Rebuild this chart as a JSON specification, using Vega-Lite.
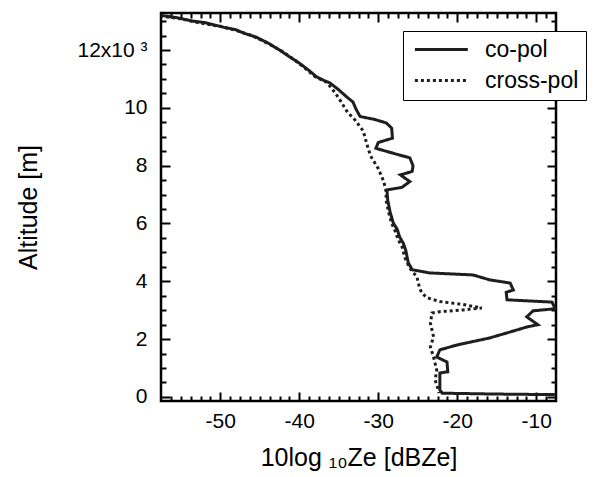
{
  "$schema": "https://vega.github.io/schema/vega-lite/v6.json",
  "width": 395,
  "height": 388,
  "autosize": "none",
  "padding": {"left": 161, "top": 13, "right": 44, "bottom": 76},
  "background": "white",
  "config": {
    "view": {"stroke": "black", "strokeWidth": 2.5, "fill": null},
    "font": "Liberation Sans",
    "axis": {"domain": false, "grid": false, "ticks": true, "zindex": 1, "tickColor": "#000000", "tickOpacity": 1, "tickWidth": 2, "labelColor": "black", "titleColor": "black", "labelFont": "Liberation Sans", "titleFont": "Liberation Sans", "titleFontWeight": "normal", "labelFlush": false, "labelOverlap": false}
  },
  "data": {"values": [
    {"s": "co-pol", "x": -57.6, "y": 13200},
    {"s": "co-pol", "x": -55.5, "y": 13120},
    {"s": "co-pol", "x": -53.5, "y": 13000},
    {"s": "co-pol", "x": -52.0, "y": 12950},
    {"s": "co-pol", "x": -50.5, "y": 12850},
    {"s": "co-pol", "x": -49.5, "y": 12780},
    {"s": "co-pol", "x": -48.0, "y": 12700},
    {"s": "co-pol", "x": -47.0, "y": 12580},
    {"s": "co-pol", "x": -45.5, "y": 12450},
    {"s": "co-pol", "x": -44.0, "y": 12250},
    {"s": "co-pol", "x": -42.5, "y": 12000},
    {"s": "co-pol", "x": -41.2, "y": 11760},
    {"s": "co-pol", "x": -40.0, "y": 11550},
    {"s": "co-pol", "x": -38.8, "y": 11300},
    {"s": "co-pol", "x": -37.8, "y": 11070},
    {"s": "co-pol", "x": -36.9, "y": 10950},
    {"s": "co-pol", "x": -36.1, "y": 10860},
    {"s": "co-pol", "x": -35.0, "y": 10620},
    {"s": "co-pol", "x": -34.0, "y": 10380},
    {"s": "co-pol", "x": -33.2, "y": 10200},
    {"s": "co-pol", "x": -32.8, "y": 9950},
    {"s": "co-pol", "x": -32.3, "y": 9700},
    {"s": "co-pol", "x": -30.5, "y": 9600},
    {"s": "co-pol", "x": -29.0, "y": 9480},
    {"s": "co-pol", "x": -28.3, "y": 9300},
    {"s": "co-pol", "x": -28.2, "y": 8950},
    {"s": "co-pol", "x": -30.0, "y": 8800},
    {"s": "co-pol", "x": -30.3, "y": 8600},
    {"s": "co-pol", "x": -28.0, "y": 8420},
    {"s": "co-pol", "x": -26.0, "y": 8270},
    {"s": "co-pol", "x": -25.6, "y": 8000},
    {"s": "co-pol", "x": -25.7, "y": 7800},
    {"s": "co-pol", "x": -27.2, "y": 7680},
    {"s": "co-pol", "x": -26.0, "y": 7450},
    {"s": "co-pol", "x": -27.0, "y": 7250},
    {"s": "co-pol", "x": -28.9, "y": 7160},
    {"s": "co-pol", "x": -28.8, "y": 6800},
    {"s": "co-pol", "x": -28.5, "y": 6400},
    {"s": "co-pol", "x": -28.1, "y": 6020},
    {"s": "co-pol", "x": -27.6, "y": 5800},
    {"s": "co-pol", "x": -27.3, "y": 5540},
    {"s": "co-pol", "x": -26.8, "y": 5300},
    {"s": "co-pol", "x": -26.5, "y": 5050},
    {"s": "co-pol", "x": -26.2, "y": 4640},
    {"s": "co-pol", "x": -25.7, "y": 4400},
    {"s": "co-pol", "x": -23.5, "y": 4290},
    {"s": "co-pol", "x": -18.0, "y": 4220},
    {"s": "co-pol", "x": -15.9, "y": 4050},
    {"s": "co-pol", "x": -13.3, "y": 3940},
    {"s": "co-pol", "x": -12.9, "y": 3700},
    {"s": "co-pol", "x": -13.8, "y": 3620},
    {"s": "co-pol", "x": -13.7, "y": 3360},
    {"s": "co-pol", "x": -8.0, "y": 3280},
    {"s": "co-pol", "x": -7.6, "y": 3050},
    {"s": "co-pol", "x": -10.4, "y": 2980},
    {"s": "co-pol", "x": -11.2, "y": 2770},
    {"s": "co-pol", "x": -9.8, "y": 2500},
    {"s": "co-pol", "x": -11.2, "y": 2420},
    {"s": "co-pol", "x": -12.4, "y": 2320},
    {"s": "co-pol", "x": -15.9, "y": 2040},
    {"s": "co-pol", "x": -20.0, "y": 1800},
    {"s": "co-pol", "x": -22.2, "y": 1630},
    {"s": "co-pol", "x": -22.6, "y": 1380},
    {"s": "co-pol", "x": -21.3, "y": 1210},
    {"s": "co-pol", "x": -21.2, "y": 870},
    {"s": "co-pol", "x": -22.2, "y": 830},
    {"s": "co-pol", "x": -22.2, "y": 240},
    {"s": "co-pol", "x": -21.9, "y": 130},
    {"s": "co-pol", "x": -15.0, "y": 100},
    {"s": "co-pol", "x": -7.5, "y": 80},
    {"s": "cross-pol", "x": -57.6, "y": 13180},
    {"s": "cross-pol", "x": -55.0, "y": 13080},
    {"s": "cross-pol", "x": -52.5, "y": 12930},
    {"s": "cross-pol", "x": -50.0, "y": 12820},
    {"s": "cross-pol", "x": -48.0, "y": 12680},
    {"s": "cross-pol", "x": -46.0, "y": 12500},
    {"s": "cross-pol", "x": -44.0, "y": 12230},
    {"s": "cross-pol", "x": -42.0, "y": 11930},
    {"s": "cross-pol", "x": -40.0, "y": 11530},
    {"s": "cross-pol", "x": -38.0, "y": 11080},
    {"s": "cross-pol", "x": -36.5, "y": 10880},
    {"s": "cross-pol", "x": -35.4, "y": 10500},
    {"s": "cross-pol", "x": -34.8, "y": 10250},
    {"s": "cross-pol", "x": -33.9, "y": 9850},
    {"s": "cross-pol", "x": -33.0, "y": 9600},
    {"s": "cross-pol", "x": -31.9, "y": 9200},
    {"s": "cross-pol", "x": -31.5, "y": 8800},
    {"s": "cross-pol", "x": -31.0, "y": 8350},
    {"s": "cross-pol", "x": -30.0, "y": 7900},
    {"s": "cross-pol", "x": -29.3, "y": 7450},
    {"s": "cross-pol", "x": -29.0, "y": 7100},
    {"s": "cross-pol", "x": -29.0, "y": 6800},
    {"s": "cross-pol", "x": -28.7, "y": 6400},
    {"s": "cross-pol", "x": -28.3, "y": 6000},
    {"s": "cross-pol", "x": -27.8, "y": 5700},
    {"s": "cross-pol", "x": -27.5, "y": 5450},
    {"s": "cross-pol", "x": -27.0, "y": 5200},
    {"s": "cross-pol", "x": -26.6, "y": 4800},
    {"s": "cross-pol", "x": -26.0, "y": 4450},
    {"s": "cross-pol", "x": -25.1, "y": 4150},
    {"s": "cross-pol", "x": -24.8, "y": 3800},
    {"s": "cross-pol", "x": -24.5, "y": 3600},
    {"s": "cross-pol", "x": -23.8, "y": 3430},
    {"s": "cross-pol", "x": -22.2, "y": 3300},
    {"s": "cross-pol", "x": -19.3, "y": 3200},
    {"s": "cross-pol", "x": -16.9, "y": 3080},
    {"s": "cross-pol", "x": -19.3, "y": 3010},
    {"s": "cross-pol", "x": -22.2, "y": 2950},
    {"s": "cross-pol", "x": -23.2, "y": 2900},
    {"s": "cross-pol", "x": -23.4, "y": 2560},
    {"s": "cross-pol", "x": -23.0, "y": 2080},
    {"s": "cross-pol", "x": -23.4, "y": 1730},
    {"s": "cross-pol", "x": -23.0, "y": 1380},
    {"s": "cross-pol", "x": -22.6, "y": 930},
    {"s": "cross-pol", "x": -22.8, "y": 590},
    {"s": "cross-pol", "x": -22.4, "y": 240},
    {"s": "cross-pol", "x": -22.3, "y": 130}
  ]},
  "layer": [
    {
      "mark": {"type": "line", "strokeWidth": 3, "color": "#1e1e1e", "clip": true},
      "encoding": {
        "x": {"field": "x", "type": "quantitative", "scale": {"domain": [-57.5, -7.5], "nice": false, "zero": false},
          "axis": {"orient": "bottom", "values": [-50, -40, -30, -20, -10],
            "labelExpr": "'' + datum.value",
            "offset": -9, "tickSize": 9, "labelFontSize": 21, "labelPadding": 9,
            "title": "10log ₁₀Ze [dBZe]", "titleFontSize": 25, "titleY": 65, "titleBaseline": "middle"}},
        "y": {"field": "y", "type": "quantitative", "scale": {"domain": [-140, 13280], "nice": false, "zero": false},
          "axis": {"orient": "left", "values": [0, 2000, 4000, 6000, 8000, 10000, 12000],
            "labelExpr": "datum.value === 12000 ? '12x10   ³' : '' + datum.value / 1000",
            "offset": -9, "tickSize": 9, "labelFontSize": 21, "labelPadding": 14,
            "title": "Altitude [m]", "titleFontSize": 25, "titleX": -142, "titleY": 194, "titleBaseline": "middle", "titleAngle": -90}},
        "strokeDash": {"field": "s", "type": "nominal", "scale": {"domain": ["co-pol", "cross-pol"], "range": [[1, 0], [3, 3]]},
          "legend": {"orient": "none", "legendX": 242, "legendY": 18, "zindex": 5, "title": null, "padding": 7, "fillColor": "white", "strokeColor": "black",
            "labelFontSize": 23, "labelFont": "Liberation Sans", "labelColor": "black", "symbolType": "M-1,0L7,0", "symbolSize": 175, "symbolStrokeWidth": 3, "symbolStrokeColor": "#1e1e1e",
            "rowPadding": 7, "labelOffset": 52}},
        "order": {"field": "y", "sort": "descending"}
      }
    },
    {
      "mark": {"type": "line", "opacity": 0, "clip": true},
      "encoding": {
        "x": {"field": "x", "type": "quantitative",
          "axis": {"orient": "top", "values": [-50, -40, -30, -20, -10], "labels": false, "title": null, "offset": -9, "tickSize": 9}},
        "y": {"field": "y", "type": "quantitative",
          "axis": {"orient": "right", "values": [0, 2000, 4000, 6000, 8000, 10000, 12000], "labels": false, "title": null, "offset": -9, "tickSize": 9}},
        "detail": {"field": "s"},
        "order": {"field": "y", "sort": "descending"}
      }
    },
    {
      "mark": {"type": "line", "opacity": 0, "clip": true},
      "encoding": {
        "x": {"field": "x", "type": "quantitative",
          "axis": {"orient": "bottom", "values": [-56.25,-55,-53.75,-52.5,-51.25,-48.75,-47.5,-46.25,-45,-43.75,-42.5,-41.25,-38.75,-37.5,-36.25,-35,-33.75,-32.5,-31.25,-28.75,-27.5,-26.25,-25,-23.75,-22.5,-21.25,-18.75,-17.5,-16.25,-15,-13.75,-12.5,-11.25,-8.75], "labels": false, "title": null, "offset": -5, "tickSize": 5}},
        "y": {"field": "y", "type": "quantitative",
          "axis": {"orient": "left", "values": [500,1000,1500,2500,3000,3500,4500,5000,5500,6500,7000,7500,8500,9000,9500,10500,11000,11500,12500,13000], "labels": false, "title": null, "offset": -5, "tickSize": 5}},
        "detail": {"field": "s"},
        "order": {"field": "y", "sort": "descending"}
      }
    },
    {
      "mark": {"type": "line", "opacity": 0, "clip": true},
      "encoding": {
        "x": {"field": "x", "type": "quantitative",
          "axis": {"orient": "top", "values": [-56.25,-55,-53.75,-52.5,-51.25,-48.75,-47.5,-46.25,-45,-43.75,-42.5,-41.25,-38.75,-37.5,-36.25,-35,-33.75,-32.5,-31.25,-28.75,-27.5,-26.25,-25,-23.75,-22.5,-21.25,-18.75,-17.5,-16.25,-15,-13.75,-12.5,-11.25,-8.75], "labels": false, "title": null, "offset": -5, "tickSize": 5}},
        "y": {"field": "y", "type": "quantitative",
          "axis": {"orient": "right", "values": [500,1000,1500,2500,3000,3500,4500,5000,5500,6500,7000,7500,8500,9000,9500,10500,11000,11500,12500,13000], "labels": false, "title": null, "offset": -5, "tickSize": 5}},
        "detail": {"field": "s"},
        "order": {"field": "y", "sort": "descending"}
      }
    }
  ],
  "resolve": {"axis": {"x": "independent", "y": "independent"}}
}
